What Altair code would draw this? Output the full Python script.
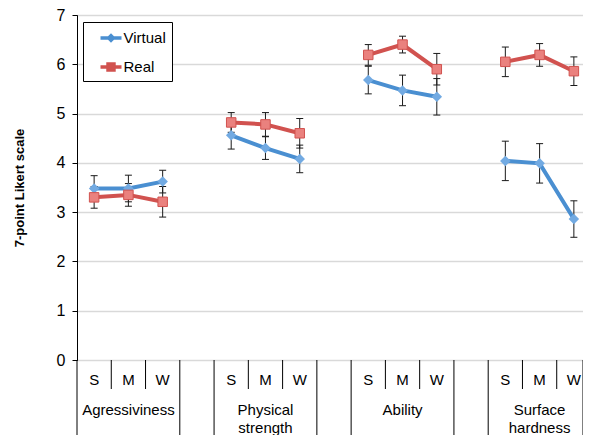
import altair as alt
import pandas as pd

groups = ["Agressiviness", "Physical strength", "Ability", "Surface hardness"]
group_line1 = ["Agressiviness", "Physical", "Ability", "Surface"]
group_line2 = ["", "strength", "", "hardness"]
levels = ["S", "M", "W"]
series_names = ["Virtual", "Real"]

virtual_mean = [3.48, 3.48, 3.62, 4.56, 4.30, 4.08, 5.68, 5.47, 5.34, 4.04, 3.99, 2.86]
virtual_err = [0.26, 0.27, 0.23, 0.28, 0.23, 0.28, 0.28, 0.31, 0.37, 0.40, 0.40, 0.37]
real_mean = [3.30, 3.35, 3.21, 4.82, 4.78, 4.60, 6.19, 6.40, 5.90, 6.05, 6.19, 5.86]
real_err = [0.22, 0.23, 0.31, 0.20, 0.24, 0.30, 0.21, 0.17, 0.32, 0.30, 0.23, 0.29]
y_ticks = [0, 1, 2, 3, 4, 5, 6, 7]

FONT = "Liberation Sans"
BLUE_LINE = "#4A8FD1"
BLUE_MARK = "#72AAE2"
RED_LINE = "#D1524F"
RED_MARK = "#EA817E"

PLOT_W = 506
PLOT_H = 345

# category slots (with gaps between groups)
slots = []
for gi, g in enumerate(groups):
    for lv in levels:
        slots.append(f"{g} {lv}")
    if gi < len(groups) - 1:
        slots.append(f"gap{gi}")

rows = []
for gi, g in enumerate(groups):
    for li, lv in enumerate(levels):
        k = gi * 3 + li
        for s, m, e in (("Virtual", virtual_mean[k], virtual_err[k]),
                        ("Real", real_mean[k], real_err[k])):
            rows.append(dict(slot=f"{g} {lv}", group=g, level=lv, lidx=li,
                             series=s, mean=m, lo=m - e, hi=m + e))
df = pd.DataFrame(rows)

lvl_df = pd.DataFrame([dict(slot=f"{g} {lv}", level=lv) for g in groups for lv in levels])
grp_df = pd.DataFrame([dict(slot=f"{g} M", line1=a, line2=b)
                       for g, a, b in zip(groups, group_line1, group_line2)])

gap_idx = [i for i, s in enumerate(slots) if s.startswith("gap")]
full_idx = sorted(set([0] + gap_idx + [i + 1 for i in gap_idx]))
short_idx = [i for i in range(len(slots)) if i not in full_idx]
full_df = pd.DataFrame({"slot": [slots[i] for i in full_idx]})
short_df = pd.DataFrame({"slot": [slots[i] for i in short_idx]})
end_df = pd.DataFrame({"slot": [slots[-1]]})

# last slot runs a little past the plot frame, as in the original
xscale = alt.Scale(type="band", domain=slots, paddingInner=0, paddingOuter=0,
                   range=[0, 514])


def X(bp=0.5):
    return alt.X("slot:N", scale=xscale, axis=None, bandPosition=bp)


yscale = alt.Scale(domain=[0, 7], nice=False)
yaxis = alt.Axis(values=y_ticks, title="7-point Likert scale", titleFont=FONT,
                 titleFontSize=13, titleFontWeight="bold", titleColor="black",
                 titlePadding=30, labelFont=FONT, labelFontSize=16, labelColor="black",
                 labelPadding=7, labelFlush=False, tickSize=5, tickColor="black",
                 domainColor="black", gridColor="#D9D9D9", gridWidth=1.5, grid=True)


def Y(field):
    return alt.Y(field, scale=yscale, axis=yaxis)


color_scale = alt.Scale(domain=series_names, range=[BLUE_LINE, RED_LINE])

virtual_path = ("M-1,-0.16L1,-0.16L1,0.16L-1,0.16Z "
                "M0,-0.45L0.45,0L0,0.45L-0.45,0Z")
real_path = ("M-1,-0.16L1,-0.16L1,0.16L-1,0.16Z "
             "M-0.45,-0.45L0.45,-0.45L0.45,0.45L-0.45,0.45Z")

leg = alt.Legend(title=None, orient="none", legendX=6, legendY=7,
                 strokeColor="black", fillColor="white", padding=5.5,
                 symbolOffset=12, labelOffset=2, rowPadding=10,
                 symbolSize=441, symbolOpacity=1, symbolStrokeWidth=0,
                 labelFont=FONT, labelFontSize=15, labelColor="black",
                 labelExpr="datum.label + '           '", cornerRadius=0)

legend_df = pd.DataFrame({"series": series_names, "slot": [slots[0]] * 2,
                          "mean": [virtual_mean[0], real_mean[0]]})
legend_layer = alt.Chart(legend_df).mark_point(filled=True, opacity=0).encode(
    x=X(),
    y=Y("mean:Q"),
    color=alt.Color("series:N", scale=color_scale, legend=leg),
    shape=alt.Shape("series:N", scale=alt.Scale(domain=series_names,
                                                range=[virtual_path, real_path]),
                    legend=leg),
)

base = alt.Chart(df)
lines = base.mark_line(strokeWidth=4).encode(
    x=X(), y=Y("mean:Q"),
    color=alt.Color("series:N", scale=color_scale, legend=None),
    detail="group:N", order="lidx:Q")
err = base.mark_rule(color="#1a1a1a", strokeWidth=1).encode(
    x=X(), y=Y("lo:Q"), y2="hi:Q")
cap_lo = base.mark_tick(orient="horizontal", size=7, thickness=1, color="#1a1a1a", opacity=1).encode(
    x=X(), y=Y("lo:Q"))
cap_hi = base.mark_tick(orient="horizontal", size=7, thickness=1, color="#1a1a1a", opacity=1).encode(
    x=X(), y=Y("hi:Q"))
pts_v = base.transform_filter(alt.datum.series == "Virtual").mark_point(
    shape="diamond", filled=True, size=110, color=BLUE_MARK, opacity=1).encode(
    x=X(), y=Y("mean:Q"))
pts_r = base.transform_filter(alt.datum.series == "Real").mark_point(
    shape="square", filled=True, size=90, fill=RED_MARK, stroke=RED_LINE,
    strokeWidth=1, opacity=1).encode(
    x=X(), y=Y("mean:Q"))

lvl_text = alt.Chart(lvl_df).mark_text(font=FONT, fontSize=15, color="black",
                                       baseline="alphabetic", align="center").encode(
    x=X(), y=alt.value(370), text="level:N")
grp_text1 = alt.Chart(grp_df).mark_text(font=FONT, fontSize=15, color="black",
                                        baseline="alphabetic", align="center").encode(
    x=X(), y=alt.value(400), text="line1:N")
grp_text2 = alt.Chart(grp_df).mark_text(font=FONT, fontSize=15, color="black",
                                        baseline="alphabetic", align="center").encode(
    x=X(), y=alt.value(418), text="line2:N")

sep_full = alt.Chart(full_df).mark_rule(color="black", strokeWidth=1).encode(
    x=X(0), y=alt.value(PLOT_H), y2=alt.value(440))
sep_short = alt.Chart(short_df).mark_rule(color="black", strokeWidth=1).encode(
    x=X(0), y=alt.value(PLOT_H), y2=alt.value(374))
sep_end = alt.Chart(end_df).mark_rule(color="black", strokeWidth=1).encode(
    x=alt.value(PLOT_W), y=alt.value(PLOT_H), y2=alt.value(440))

chart = alt.layer(
    legend_layer, lines, err, cap_lo, cap_hi, pts_v, pts_r,
    lvl_text, grp_text1, grp_text2, sep_full, sep_short, sep_end,
).properties(
    width=PLOT_W, height=PLOT_H,
    autosize=alt.AutoSizeParams(type="none"),
    padding={"left": 69, "top": 7, "right": 0, "bottom": 80},
).configure_view(stroke="#333", strokeWidth=1)

chart.save("out.html", embed_options={"renderer": "svg", "actions": False})
